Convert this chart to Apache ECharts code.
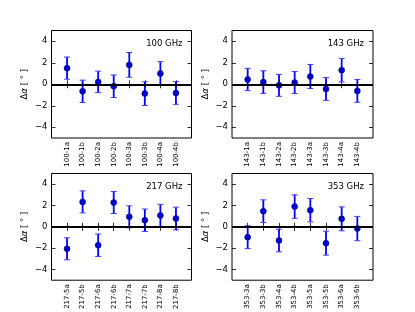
<!DOCTYPE html>
<html>
<head>
<meta charset="utf-8">
<script src="https://cdn.jsdelivr.net/npm/echarts@6/dist/echarts.min.js"></script>
<style>html,body{margin:0;padding:0;background:#fff;}#c{width:415px;height:312px;}</style>
</head>
<body>
<div id="c"></div>
<script>
const titles = ['100 GHz', '143 GHz', '217 GHz', '353 GHz'];
const cats100 = ['100-1a','100-1b','100-2a','100-2b','100-3a','100-3b','100-4a','100-4b'];
const cats143 = ['143-1a','143-1b','143-2a','143-2b','143-3a','143-3b','143-4a','143-4b'];
const cats217 = ['217-5a','217-5b','217-6a','217-6b','217-7a','217-7b','217-8a','217-8b'];
const cats353 = ['353-3a','353-3b','353-4a','353-4b','353-5a','353-5b','353-6a','353-6b'];
const vals100 = [1.5, -0.66, 0.22, -0.18, 1.8, -0.87, 1.0, -0.81];
const err100  = [1.03, 1.04, 1.0, 1.05, 1.15, 1.1, 1.1, 1.06];
const vals143 = [0.44, 0.2, -0.1, 0.16, 0.72, -0.44, 1.31, -0.62];
const err143  = [1.04, 1.05, 1.02, 1.03, 1.12, 1.06, 1.1, 1.06];
const vals217 = [-2.06, 2.34, -1.72, 2.28, 0.94, 0.62, 1.06, 0.78];
const err217  = [1.03, 1.03, 1.05, 1.03, 1.03, 1.05, 1.05, 1.06];
const vals353 = [-0.97, 1.47, -1.28, 1.9, 1.56, -1.53, 0.75, -0.16];
const err353  = [1.07, 1.06, 1.06, 1.1, 1.1, 1.12, 1.12, 1.14];
const yTicks = [-4, -2, 0, 2, 4];

const panels = [
  {cats: cats100, vals: vals100, err: err100},
  {cats: cats143, vals: vals143, err: err143},
  {cats: cats217, vals: vals217, err: err217},
  {cats: cats353, vals: vals353, err: err353}
];
const lefts = [51.5, 232];
const widths = [140, 141];
const tops = [30.5, 173.5];
const H = 107.5;
const FONT = 'DejaVu Sans';

const grid = [], xAxis = [], yAxis = [], series = [], graphic = [];
panels.forEach((p, i) => {
  const col = i % 2, row = Math.floor(i / 2);
  grid.push({left: lefts[col], top: tops[row], width: widths[col], height: H,
    show: true, borderColor: '#000', borderWidth: 1, backgroundColor: 'transparent'});
  const axisCats = [''].concat(p.cats, ['']);
  const tickInt = (idx, v) => v !== '';
  xAxis.push({type: 'category', gridIndex: i, data: axisCats, boundaryGap: false, position: 'bottom',
    axisLine: {show: false},
    axisTick: {show: true, inside: true, length: 4, interval: tickInt, lineStyle: {color: '#000', width: 0.8}},
    axisLabel: {show: true, rotate: 90, interval: tickInt, fontFamily: FONT, fontSize: 7, color: '#000', margin: 4},
    splitLine: {show: false}});
  xAxis.push({type: 'category', gridIndex: i, data: axisCats, boundaryGap: false, position: 'top',
    axisLine: {show: false},
    axisTick: {show: true, inside: true, length: 4, interval: tickInt, lineStyle: {color: '#000', width: 0.8}},
    axisLabel: {show: false}, splitLine: {show: false}});
  yAxis.push({type: 'value', gridIndex: i, min: -5, max: 5, position: 'left',
    name: '{d|Δ}{a|α} [ ° ]', nameLocation: 'middle', nameGap: 22, nameRotate: 90,
    nameTextStyle: {fontFamily: FONT, fontSize: 8.5, color: '#000',
      rich: {d: {fontFamily: FONT, fontSize: 8.5, color: '#000'}, a: {fontFamily: FONT, fontSize: 8.5, fontStyle: 'italic', color: '#000'}}},
    axisLine: {show: false},
    axisTick: {show: true, inside: true, length: 4, customValues: yTicks, lineStyle: {color: '#000', width: 0.8}},
    axisLabel: {show: true, customValues: yTicks, fontFamily: FONT, fontSize: 8.5, color: '#000', margin: 4,
      formatter: v => (v < 0 ? '\u2212' + Math.abs(v) : String(v))},
    splitLine: {show: false}});
  yAxis.push({type: 'value', gridIndex: i, min: -5, max: 5, position: 'right',
    axisLine: {show: false},
    axisTick: {show: true, inside: true, length: 4, customValues: yTicks, lineStyle: {color: '#000', width: 0.8}},
    axisLabel: {show: false}, splitLine: {show: false}});

  const errData = p.cats.map((c, k) => [c, p.vals[k] - p.err[k], p.vals[k] + p.err[k]]);
  series.push({type: 'custom', xAxisIndex: 2 * i, yAxisIndex: 2 * i, data: errData,
    encode: {x: 0, y: [1, 2]}, z: 3,
    renderItem: (params, api) => {
      const lo = api.coord([api.value(0), api.value(1)]);
      const hi = api.coord([api.value(0), api.value(2)]);
      const hw = 3;
      const st = {stroke: '#0000ff', lineWidth: 1.8};
      return {type: 'group', children: [
        {type: 'line', shape: {x1: lo[0], y1: lo[1], x2: hi[0], y2: hi[1]}, style: st},
        {type: 'line', shape: {x1: lo[0] - hw, y1: lo[1], x2: lo[0] + hw, y2: lo[1]}, style: {stroke: '#3d3dff', lineWidth: 1}},
        {type: 'line', shape: {x1: hi[0] - hw, y1: hi[1], x2: hi[0] + hw, y2: hi[1]}, style: {stroke: '#3d3dff', lineWidth: 1}}
      ]};
    }});
  series.push({type: 'scatter', xAxisIndex: 2 * i, yAxisIndex: 2 * i, z: 4,
    data: p.cats.map((c, k) => [c, p.vals[k]]),
    symbol: 'circle', symbolSize: 6,
    itemStyle: {color: '#0000d0', borderColor: '#000060', borderWidth: 0.5, opacity: 1},
    markLine: {silent: true, symbol: ['none', 'none'], label: {show: false},
      lineStyle: {color: '#000', width: 1.8, type: 'solid'},
      data: [{yAxis: 0}], animation: false}});
  graphic.push({type: 'text', right: 415 - (lefts[col] + widths[col]) + 9, top: tops[row] + 8.5,
    style: {text: titles[i], fontFamily: FONT, fontSize: 8.5, fill: '#000'}});
});

const chart = echarts.init(document.getElementById('c'), null, {renderer: 'canvas'});
chart.setOption({animation: false, backgroundColor: '#fff', grid, xAxis, yAxis, series, graphic});
</script>
</body>
</html>
